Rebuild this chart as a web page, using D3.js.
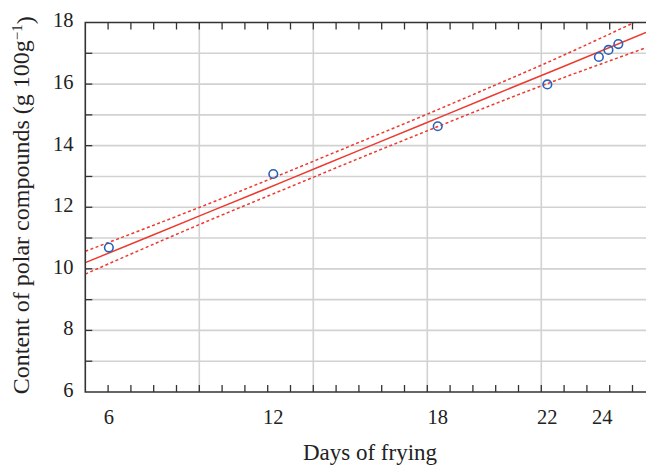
<!DOCTYPE html>
<html>
<head>
<meta charset="utf-8">
<script src="https://cdn.jsdelivr.net/npm/d3@7"></script>
<style>
  body { margin: 0; background: #fff; }
  text { font-family: "Liberation Serif", "Times New Roman", serif; fill: #222; }
</style>
</head>
<body>
<div id="chart"></div>
<script>
// measured points (days of frying, polar compounds g/100g)
var pointDays = [6, 12, 18, 22, 23.88, 24.23, 24.59];
var pointValues = [10.69, 13.08, 14.63, 15.99, 16.88, 17.11, 17.30];

// fitted line and its band
var bandDays = [5.14, 7.5, 10, 12.5, 15, 17.5, 20, 22.5, 25.6];
var fitValues = [10.20, 11.06, 11.97, 12.88, 13.80, 14.71, 15.63, 16.54, 17.68];
var upperValues = [10.57, 11.37, 12.24, 13.14, 14.06, 14.98, 15.93, 16.90, 18.18];
var lowerValues = [9.83, 10.75, 11.70, 12.62, 13.54, 14.44, 15.33, 16.18, 17.18];

// axis labels
var xTickLabels = [6, 12, 18, 22, 24];
var yTickLabels = [6, 8, 10, 12, 14, 16, 18];
var yGridValues = [7, 8, 9, 10, 11, 12, 13, 14, 15, 16, 17];
// frame ticks on the day axis run in their own even steps
var frameSteps = d3.range(1, 25);
var frameGrid = [5, 10, 15, 20];

var width = 646, height = 467;
var margin = {top: 22.5, right: 0, bottom: 75, left: 85.3};

var svg = d3.select("#chart").append("svg")
    .attr("width", width)
    .attr("height", height);

var x = d3.scaleLinear()
    .domain([5.14, 25.6])
    .range([margin.left, 646]);

var xFrame = d3.scaleLinear()
    .domain([0, 25])
    .range([margin.left, margin.left + 25 * 22.8]);

var y = d3.scaleLinear()
    .domain([6, 18])
    .range([392, margin.top]);

svg.append("clipPath").attr("id", "plot-clip")
  .append("rect")
    .attr("x", margin.left)
    .attr("y", margin.top)
    .attr("width", width - margin.left)
    .attr("height", y(6) - margin.top);

//gridlines
var grid = svg.append("g").attr("clip-path", "url(#plot-clip)");
grid.selectAll(".hgrid").data(yGridValues).enter().append("line")
    .attr("class", "hgrid")
    .attr("x1", margin.left).attr("x2", width)
    .attr("y1", function(d) { return y(d); })
    .attr("y2", function(d) { return y(d); })
    .attr("stroke", "#d2d2d2").attr("stroke-width", 1.6);
grid.selectAll(".vgrid").data(frameGrid).enter().append("line")
    .attr("class", "vgrid")
    .attr("x1", function(d) { return xFrame(d); })
    .attr("x2", function(d) { return xFrame(d); })
    .attr("y1", y(18)).attr("y2", y(6))
    .attr("stroke", "#d2d2d2").attr("stroke-width", 1.6);

//fit line and band
var plot = svg.append("g").attr("clip-path", "url(#plot-clip)");
function bandLine(values) {
    return d3.line()
        .x(function(d, i) { return x(bandDays[i]); })
        .y(function(d) { return y(d); })
        .curve(d3.curveNatural)(values);
}
plot.append("path")
    .attr("d", bandLine(upperValues))
    .attr("fill", "none").attr("stroke", "#ee3a2e")
    .attr("stroke-width", 1.5).attr("stroke-dasharray", "3,2.5");
plot.append("path")
    .attr("d", bandLine(lowerValues))
    .attr("fill", "none").attr("stroke", "#ee3a2e")
    .attr("stroke-width", 1.5).attr("stroke-dasharray", "3,2.5");
plot.append("path")
    .attr("d", bandLine(fitValues))
    .attr("fill", "none").attr("stroke", "#ee3a2e")
    .attr("stroke-width", 1.5);

plot.selectAll("circle").data(pointValues).enter().append("circle")
    .attr("cx", function(d, i) { return x(pointDays[i]); })
    .attr("cy", function(d) { return y(d); })
    .attr("r", 4.3)
    .attr("fill", "none")
    .attr("stroke", "#2a62b8")
    .attr("stroke-width", 1.6);

//frame with inward ticks
var frame = svg.append("g");
var axisColor = "#333";
frame.append("path")
    .attr("d", "M" + width + "," + y(18) + "H" + margin.left + "V" + y(6) + "H" + width)
    .attr("fill", "none").attr("stroke", axisColor).attr("stroke-width", 1.6);

frame.selectAll(".btick").data(frameSteps).enter().append("line")
    .attr("x1", function(d) { return xFrame(d); })
    .attr("x2", function(d) { return xFrame(d); })
    .attr("y1", y(6)).attr("y2", y(6) - 7)
    .attr("stroke", axisColor).attr("stroke-width", 1.3);
frame.selectAll(".ttick").data(frameSteps).enter().append("line")
    .attr("x1", function(d) { return xFrame(d); })
    .attr("x2", function(d) { return xFrame(d); })
    .attr("y1", y(18)).attr("y2", y(18) + 7)
    .attr("stroke", axisColor).attr("stroke-width", 1.3);
frame.selectAll(".ltick").data(yGridValues).enter().append("line")
    .attr("x1", margin.left).attr("x2", margin.left + 7)
    .attr("y1", function(d) { return y(d); })
    .attr("y2", function(d) { return y(d); })
    .attr("stroke", axisColor).attr("stroke-width", 1.3);

//tick labels
svg.selectAll(".xlabel").data(xTickLabels).enter().append("text")
    .attr("x", function(d) { return x(d); })
    .attr("y", 424)
    .attr("text-anchor", "middle")
    .style("font-size", "20.5px")
    .text(function(d) { return d; });

svg.selectAll(".ylabel").data(yTickLabels).enter().append("text")
    .attr("x", 73.5)
    .attr("y", function(d) { return y(d); })
    .attr("dy", "0.24em")
    .attr("text-anchor", "end")
    .style("font-size", "20.5px")
    .text(function(d) { return d; });

//axis titles
svg.append("text")
    .attr("x", 370)
    .attr("y", 460)
    .attr("text-anchor", "middle")
    .style("font-size", "23px")
    .text("Days of frying");

var yTitle = svg.append("text")
    .attr("transform", "translate(29," + ((y(6) + y(18)) / 2 - 2) + ") rotate(-90)")
    .attr("text-anchor", "middle")
    .style("font-size", "24px");
yTitle.append("tspan").text("Content of polar compounds (g 100g");
yTitle.append("tspan").attr("dy", "-0.45em").style("font-size", "15px").text("\u22121");
yTitle.append("tspan").attr("dy", "0.45em").text(")");
</script>
</body>
</html>
